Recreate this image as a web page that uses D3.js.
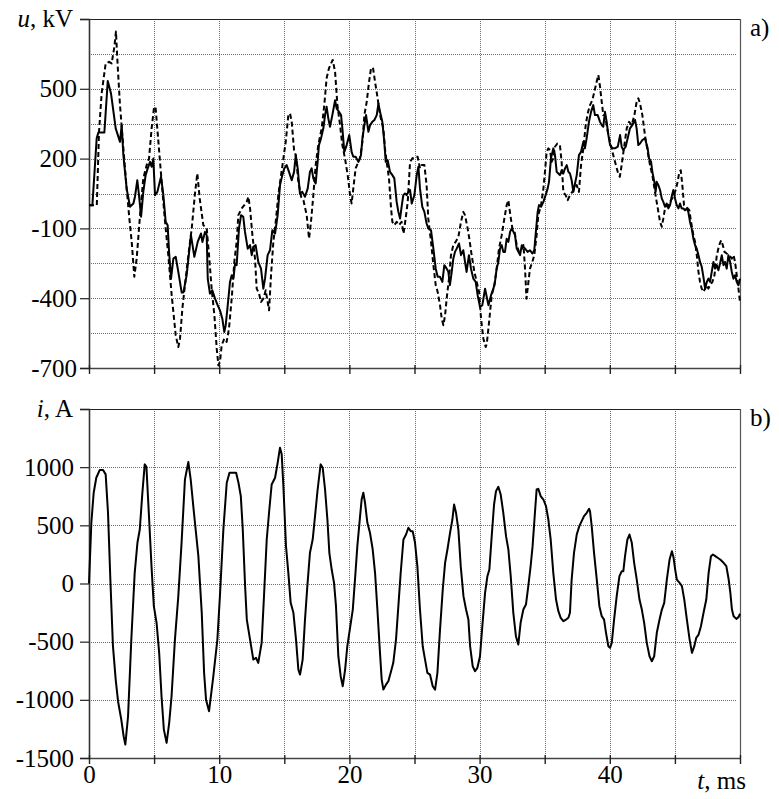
<!DOCTYPE html>
<html>
<head>
<meta charset="utf-8">
<script src="https://cdn.jsdelivr.net/npm/d3@7"></script>
<style>
  html, body { margin: 0; padding: 0; background: #fff; }
  #chart { width: 779px; height: 799px; }
  #chart text { font-family: "Liberation Serif", "DejaVu Serif", serif; font-size: 25px; fill: #000; }
</style>
</head>
<body>
<div id="chart"></div>
<script>
// time axis, ms
var timeTicks = [0, 5, 10, 15, 20, 25, 30, 35, 40, 45, 50];
var timeTickLabels = ["0", "", "10", "", "20", "", "30", "", "40", "", ""];

// voltage panel a), kV
var voltageTicks = [-700, -400, -100, 200, 500, 800];
var voltageGrid = [-550, -400, -250, -100, 50, 200, 350, 500, 650];

// current panel b), A
var currentTicks = [-1500, -1000, -500, 0, 500, 1000, 1500];
var currentGrid = [-1000, -500, 0, 500, 1000];

// [t, u] solid trace
var voltageSolid = [
  [0,0],[0.26,0],[0.59,287],[0.72,312],[1.18,312],[1.44,533],[1.69,480],[2.05,330],[2.38,272],[2.51,344],
  [2.64,215],[2.89,72],[3.15,-7],[3.41,7],[3.53,36],[3.71,107],[3.84,43],[4.0,-50],[4.17,57],[4.35,129],
  [4.51,158],[4.69,186],[4.81,165],[4.94,200],[5.07,43],[5.25,57],[5.53,122],[5.71,43],[5.89,-72],[6.04,-86],
  [6.15,-201],[6.3,-316],[6.48,-230],[6.66,-222],[6.86,-287],[7.12,-376],[7.25,-376],[7.5,-301],[7.83,-129],[8.09,-222],
  [8.35,-158],[8.6,-122],[8.71,-158],[8.91,-115],[9.04,-129],[9.12,-316],[9.29,-380],[9.47,-366],[9.68,-402],[9.88,-430],
  [10.06,-452],[10.24,-488],[10.39,-545],[10.5,-516],[10.63,-445],[10.83,-330],[10.96,-301],[11.09,-316],[11.22,-251],[11.34,-258],
  [11.52,-100],[11.68,-43],[11.85,-50],[11.98,-115],[12.19,-187],[12.37,-172],[12.5,-215],[12.62,-179],[12.8,-172],[13.0,-244],
  [13.21,-273],[13.39,-359],[13.52,-316],[13.72,-215],[13.9,-194],[14.08,-108],[14.29,-122],[14.49,-43],[14.67,86],[14.85,129],
  [15.0,158],[15.18,172],[15.36,143],[15.57,107],[15.75,143],[15.88,215],[16.03,158],[16.2,50],[16.38,57],[16.59,36],
  [16.8,72],[16.97,143],[17.1,158],[17.23,115],[17.41,93],[17.56,186],[17.66,258],[17.82,287],[18.0,330],[18.13,387],
  [18.25,423],[18.38,373],[18.51,337],[18.69,387],[18.9,451],[19.02,416],[19.2,401],[19.36,387],[19.46,330],[19.61,229],
  [19.79,258],[19.99,301],[20.17,229],[20.3,208],[20.48,208],[20.69,186],[20.89,215],[21.0,287],[21.15,344],[21.28,387],
  [21.46,315],[21.59,344],[21.76,358],[21.92,366],[22.1,387],[22.23,437],[22.35,401],[22.53,358],[22.68,272],[22.79,186],
  [22.94,193],[23.12,143],[23.3,129],[23.45,115],[23.63,14],[23.76,-29],[23.89,-58],[24.01,-7],[24.14,43],[24.27,50],
  [24.4,43],[24.53,57],[24.66,65],[24.79,7],[24.99,43],[25.17,129],[25.3,165],[25.42,72],[25.6,-7],[25.76,-29],
  [25.93,-79],[26.06,-100],[26.27,-108],[26.45,-187],[26.63,-273],[26.78,-308],[26.96,-308],[27.14,-330],[27.29,-258],[27.47,-273],
  [27.6,-287],[27.72,-344],[27.86,-287],[27.98,-230],[28.11,-201],[28.24,-187],[28.42,-165],[28.57,-215],[28.75,-194],[28.88,-244],
  [29.0,-287],[29.18,-215],[29.34,-273],[29.52,-316],[29.7,-330],[29.85,-387],[30.03,-438],[30.21,-430],[30.42,-359],[30.55,-395],
  [30.68,-430],[30.88,-387],[31.06,-359],[31.18,-330],[31.31,-273],[31.44,-244],[31.57,-187],[31.7,-172],[31.82,-201],[31.95,-201],
  [32.08,-144],[32.21,-158],[32.34,-115],[32.47,-100],[32.6,-115],[32.72,-129],[32.85,-187],[32.98,-201],[33.11,-215],[33.24,-172],
  [33.37,-179],[33.49,-187],[33.69,-201],[33.87,-194],[34.05,-208],[34.2,-194],[34.3,-129],[34.46,-29],[34.56,0],[34.72,-7],
  [34.9,14],[35.07,43],[35.23,72],[35.33,100],[35.48,201],[35.66,244],[35.79,215],[35.92,143],[36.05,136],[36.17,129],
  [36.3,150],[36.43,136],[36.56,158],[36.69,172],[36.82,143],[36.94,136],[37.07,107],[37.2,57],[37.33,93],[37.46,129],
  [37.63,215],[37.79,229],[37.97,272],[38.09,244],[38.22,287],[38.4,358],[38.56,401],[38.73,430],[38.86,387],[39.07,387],
  [39.25,358],[39.38,344],[39.5,337],[39.63,401],[39.76,358],[39.89,301],[40.02,258],[40.2,244],[40.4,244],[40.61,251],
  [40.79,301],[40.91,251],[41.04,237],[41.22,251],[41.37,287],[41.55,330],[41.73,344],[41.94,366],[42.06,330],[42.19,258],
  [42.32,265],[42.5,280],[42.7,287],[42.91,244],[43.01,201],[43.17,186],[43.27,143],[43.42,100],[43.52,57],[43.6,100],
  [43.73,86],[43.86,65],[43.99,29],[44.11,14],[44.24,-7],[44.37,7],[44.5,-14],[44.63,0],[44.75,36],[44.88,65],
  [45.01,29],[45.14,0],[45.27,-14],[45.39,7],[45.52,-14],[45.65,-14],[45.78,-22],[45.91,-14],[46.03,-29],[46.16,-72],
  [46.29,-100],[46.42,-144],[46.55,-172],[46.68,-187],[46.81,-215],[46.93,-244],[47.06,-265],[47.19,-308],[47.32,-359],[47.45,-330],
  [47.57,-316],[47.7,-330],[47.83,-287],[47.96,-244],[48.09,-273],[48.22,-258],[48.34,-280],[48.47,-251],[48.6,-215],[48.73,-258],
  [48.85,-244],[48.98,-273],[49.11,-215],[49.24,-244],[49.37,-287],[49.5,-316],[49.62,-301],[49.75,-330],[49.88,-344],[50.0,-316]
];

// [t, u] dashed trace
var voltageDashed = [
  [0,0],[0.6,0],[0.77,315],[0.97,480],[1.28,609],[1.54,616],[1.74,609],[1.95,681],[2.07,746],[2.2,602],
  [2.38,430],[2.64,244],[2.89,72],[3.1,-58],[3.28,-158],[3.48,-308],[3.66,-230],[3.92,-43],[4.17,115],[4.43,172],
  [4.61,200],[4.81,330],[5.0,423],[5.12,416],[5.33,272],[5.58,100],[5.84,-72],[6.09,-215],[6.35,-387],[6.66,-559],
  [6.86,-610],[6.99,-574],[7.17,-445],[7.37,-344],[7.63,-215],[7.89,-100],[8.14,50],[8.32,136],[8.5,30],[8.78,-86],
  [9.04,-100],[9.22,-215],[9.42,-359],[9.63,-473],[9.81,-617],[9.94,-689],[10.06,-674],[10.19,-602],[10.39,-574],[10.57,-588],
  [10.75,-531],[10.96,-402],[11.16,-244],[11.34,-158],[11.47,-43],[11.73,-14],[11.93,0],[12.11,14],[12.24,36],[12.37,-14],
  [12.55,-129],[12.75,-230],[12.88,-359],[13.06,-380],[13.21,-416],[13.39,-402],[13.57,-366],[13.72,-416],[13.83,-452],[13.98,-301],
  [14.16,-158],[14.34,-72],[14.54,43],[14.75,129],[14.93,200],[15.11,272],[15.31,387],[15.44,394],[15.57,358],[15.75,236],
  [15.88,215],[16.08,100],[16.29,36],[16.47,21],[16.72,-43],[16.9,-144],[17.05,-72],[17.23,43],[17.41,172],[17.61,258],
  [17.87,330],[18.07,430],[18.25,545],[18.43,588],[18.59,609],[18.72,624],[18.9,573],[19.08,430],[19.28,344],[19.46,258],
  [19.66,201],[19.87,129],[20.05,43],[20.17,7],[20.3,72],[20.48,158],[20.69,186],[20.82,201],[21.0,272],[21.15,387],
  [21.33,444],[21.51,530],[21.66,588],[21.81,591],[21.97,530],[22.17,459],[22.35,387],[22.61,330],[22.73,244],[22.86,186],
  [23.04,115],[23.2,-14],[23.3,-72],[23.45,-86],[23.63,-72],[23.81,-86],[24.01,-72],[24.16,-122],[24.32,-58],[24.48,14],
  [24.66,186],[24.84,201],[25.04,208],[25.24,208],[25.42,158],[25.55,172],[25.76,172],[25.93,86],[26.06,-58],[26.27,-158],
  [26.45,-258],[26.63,-344],[26.78,-373],[26.96,-430],[27.09,-488],[27.22,-516],[27.35,-473],[27.47,-402],[27.65,-316],[27.8,-215],
  [27.98,-172],[28.16,-158],[28.37,-136],[28.57,-72],[28.75,-29],[28.88,-43],[29.08,-100],[29.21,-144],[29.39,-215],[29.6,-287],
  [29.78,-330],[29.96,-373],[30.11,-488],[30.29,-574],[30.47,-610],[30.55,-596],[30.73,-502],[30.93,-387],[31.14,-344],[31.31,-273],
  [31.49,-187],[31.7,-129],[31.9,-58],[32.08,0],[32.21,21],[32.36,-43],[32.52,-100],[32.67,-108],[32.85,-172],[33.03,-201],
  [33.24,-187],[33.37,-172],[33.49,-273],[33.6,-402],[33.75,-330],[33.87,-273],[34.05,-244],[34.2,-215],[34.38,-129],[34.51,-43],
  [34.72,0],[34.9,72],[35.02,143],[35.15,229],[35.28,244],[35.41,237],[35.53,186],[35.66,201],[35.79,251],[35.97,265],
  [36.17,258],[36.3,186],[36.43,57],[36.61,43],[36.76,21],[36.94,43],[37.12,57],[37.28,72],[37.46,86],[37.63,57],
  [37.79,172],[37.97,244],[38.15,344],[38.3,394],[38.48,430],[38.66,451],[38.81,487],[38.99,530],[39.12,559],[39.25,509],
  [39.38,444],[39.5,387],[39.63,387],[39.76,344],[39.89,301],[40.02,272],[40.2,229],[40.4,186],[40.61,143],[40.77,122],
  [40.91,172],[41.12,258],[41.3,330],[41.48,358],[41.68,344],[41.89,387],[42.06,444],[42.19,459],[42.32,437],[42.5,387],
  [42.7,301],[42.91,229],[43.09,172],[43.27,129],[43.47,57],[43.6,14],[43.73,-29],[43.86,-72],[43.99,-93],[44.11,-58],
  [44.24,-14],[44.37,0],[44.5,0],[44.7,21],[44.88,36],[45.06,65],[45.21,100],[45.34,143],[45.45,150],[45.57,86],
  [45.7,0],[45.83,-7],[45.98,-14],[46.11,-22],[46.24,-72],[46.42,-129],[46.55,-158],[46.68,-215],[46.81,-287],[46.93,-330],
  [47.06,-359],[47.19,-373],[47.32,-359],[47.45,-344],[47.57,-359],[47.7,-344],[47.88,-330],[48.04,-301],[48.22,-215],[48.4,-172],
  [48.55,-151],[48.68,-172],[48.81,-201],[48.98,-208],[49.16,-215],[49.37,-230],[49.5,-215],[49.62,-244],[49.75,-301],[49.88,-359],
  [50.0,-416]
];

// [t, i] current trace
var currentTrace = [
  [0,0],[0.18,522],[0.36,780],[0.56,909],[0.82,975],[1.08,975],[1.28,938],[1.46,608],[1.64,34],[1.84,-539],
  [2.05,-826],[2.23,-1012],[2.48,-1170],[2.66,-1313],[2.79,-1385],[3.0,-1141],[3.25,-482],[3.51,92],[3.72,350],[3.9,464],
  [4.1,780],[4.28,1024],[4.41,1003],[4.62,550],[4.8,149],[4.98,-195],[5.19,-338],[5.39,-596],[5.57,-969],[5.75,-1256],
  [5.96,-1370],[6.16,-1198],[6.34,-969],[6.6,-482],[6.86,-109],[7.11,350],[7.37,895],[7.63,1044],[7.81,895],[8.06,608],
  [8.4,235],[8.66,-252],[8.84,-768],[8.99,-1000],[9.22,-1098],[9.55,-797],[9.86,-482],[10.07,-80],[10.32,464],[10.58,866],
  [10.79,952],[11.1,952],[11.3,952],[11.48,866],[11.66,751],[11.81,464],[11.99,-23],[12.12,-310],[12.37,-482],[12.62,-654],
  [12.83,-639],[13.0,-682],[13.26,-510],[13.44,-109],[13.65,378],[13.85,636],[14.03,851],[14.29,909],[14.47,1024],[14.67,1167],
  [14.8,1110],[14.93,837],[15.13,321],[15.31,92],[15.49,-166],[15.7,-252],[15.9,-482],[16.08,-740],[16.21,-783],[16.41,-654],
  [16.59,-310],[16.77,-23],[16.97,264],[17.18,378],[17.36,579],[17.56,808],[17.79,1024],[17.95,995],[18.13,808],[18.31,550],
  [18.46,264],[18.64,120],[18.82,6],[18.97,-195],[19.15,-625],[19.33,-797],[19.49,-883],[19.67,-740],[19.84,-539],[20.05,-381],
  [20.26,-224],[20.43,34],[20.61,321],[20.82,579],[20.94,722],[21.07,780],[21.2,694],[21.38,522],[21.58,436],[21.79,292],
  [21.97,92],[22.15,-224],[22.35,-596],[22.48,-826],[22.61,-912],[22.81,-869],[22.99,-840],[23.17,-768],[23.37,-682],[23.58,-482],
  [23.76,-195],[23.94,92],[24.15,378],[24.35,421],[24.53,479],[24.71,450],[24.86,450],[25.04,350],[25.22,149],[25.42,-224],
  [25.63,-539],[25.81,-654],[25.99,-768],[26.19,-783],[26.4,-883],[26.58,-912],[26.76,-768],[26.96,-396],[27.17,-52],[27.35,178],
  [27.53,292],[27.73,436],[27.91,550],[28.04,679],[28.19,608],[28.37,464],[28.55,149],[28.76,-109],[28.96,-224],[29.14,-310],
  [29.27,-539],[29.47,-711],[29.65,-754],[29.83,-725],[30.03,-625],[30.21,-367],[30.42,-80],[30.6,63],[30.75,120],[30.93,407],
  [31.11,679],[31.26,794],[31.44,831],[31.62,765],[31.82,608],[32.03,407],[32.21,292],[32.39,63],[32.59,-252],[32.79,-453],
  [32.97,-525],[33.15,-338],[33.36,-224],[33.56,-181],[33.74,-23],[33.92,149],[34.07,321],[34.25,608],[34.38,808],[34.51,814],
  [34.69,751],[34.9,722],[35.1,665],[35.28,550],[35.46,378],[35.66,92],[35.87,-138],[36.05,-238],[36.23,-295],[36.43,-324],
  [36.64,-310],[36.82,-295],[36.94,-252],[37.07,34],[37.25,264],[37.46,421],[37.66,493],[37.84,536],[38.02,579],[38.23,608],
  [38.41,642],[38.48,622],[38.61,493],[38.79,264],[39.0,34],[39.2,-195],[39.38,-281],[39.56,-310],[39.71,-424],[39.89,-539],
  [40.02,-553],[40.15,-510],[40.33,-310],[40.53,-109],[40.74,63],[40.92,106],[41.04,106],[41.17,235],[41.35,378],[41.51,421],
  [41.69,350],[41.87,178],[42.07,34],[42.28,-138],[42.46,-224],[42.64,-338],[42.84,-510],[43.05,-625],[43.23,-668],[43.41,-625],
  [43.61,-424],[43.82,-310],[44.0,-224],[44.18,-166],[44.38,34],[44.59,206],[44.77,278],[44.9,221],[45.02,120],[45.15,34],
  [45.36,6],[45.54,-23],[45.72,-138],[45.92,-310],[46.13,-482],[46.31,-596],[46.49,-539],[46.64,-467],[46.82,-439],[47.0,-367],
  [47.2,-252],[47.41,-138],[47.59,92],[47.77,235],[47.92,249],[48.1,235],[48.28,221],[48.48,206],[48.74,178],[48.95,149],
  [49.13,34],[49.26,-80],[49.38,-224],[49.51,-281],[49.72,-304],[49.9,-287],[50.0,-260]
];

function Panel(opts) {
  this.svg = opts.svg;
  this.top = opts.top;
  this.bottom = opts.bottom;
  this.left = 89;
  this.right = 740;
  this.x = d3.scaleLinear().domain([0, 50]).range([this.left, this.right]);
  this.y = d3.scaleLinear().domain(opts.domain).range([this.bottom, this.top]);
  this.g = this.svg.append("g");
  this.drawGrid(opts.grid);
  this.drawFrame();
  this.drawYAxis(opts.ticks, opts.labelPad, opts.unitItalic, opts.unitRest);
  this.drawXAxis(opts.showTimeLabels);
  this.drawTag(opts.tag, opts.tagY);
}

Panel.prototype.drawGrid = function (gridValues) {
  var that = this;
  var grid = this.g.append("g")
    .attr("stroke", "#6e6e6e")
    .attr("stroke-width", 1)
    .attr("stroke-dasharray", "1,1")
    .attr("shape-rendering", "crispEdges");
  grid.selectAll("line.h")
    .data(gridValues)
    .enter()
    .append("line")
    .attr("class", "h")
    .attr("x1", this.left)
    .attr("x2", this.right - 3)
    .attr("y1", function (d) { return Math.round(that.y(d)) + 0.5; })
    .attr("y2", function (d) { return Math.round(that.y(d)) + 0.5; });
  grid.selectAll("line.v")
    .data(timeTicks.slice(1, -1))
    .enter()
    .append("line")
    .attr("class", "v")
    .attr("y1", this.top)
    .attr("y2", this.bottom)
    .attr("x1", function (d) { return Math.round(that.x(d)) + 0.5; })
    .attr("x2", function (d) { return Math.round(that.x(d)) + 0.5; });
};

Panel.prototype.drawFrame = function () {
  this.g.append("line")
    .attr("x1", this.left).attr("x2", this.right)
    .attr("y1", this.top + 0.5).attr("y2", this.top + 0.5)
    .attr("stroke", "#222").attr("stroke-width", 1.2);
  this.g.append("line")
    .attr("x1", this.right + 0.5).attr("x2", this.right + 0.5)
    .attr("y1", this.top).attr("y2", this.bottom)
    .attr("stroke", "#555").attr("stroke-width", 1.2);
};

Panel.prototype.drawYAxis = function (ticks, labelPad, unitItalic, unitRest) {
  var axis = d3.axisLeft(this.y)
    .tickValues(ticks)
    .tickSize(9)
    .tickPadding(labelPad)
    .tickFormat(function (d, i) {
      return i === ticks.length - 1 ? "" : String(d);
    });
  var ag = this.g.append("g")
    .attr("transform", "translate(" + this.left + ",0)")
    .call(axis);
  ag.attr("font-family", null).attr("font-size", null);
  ag.select(".domain").attr("stroke", "#333").attr("stroke-width", 1.6);
  ag.selectAll(".tick line").attr("stroke", "#222").attr("stroke-width", 1.2);

  var unit = this.g.append("text")
    .attr("x", 73)
    .attr("y", this.top + 8)
    .attr("text-anchor", "end");
  unit.append("tspan").attr("font-style", "italic").text(unitItalic);
  unit.append("tspan").text(unitRest);
};

Panel.prototype.drawXAxis = function (showTimeLabels) {
  var axis = d3.axisBottom(this.x)
    .tickValues(timeTicks)
    .tickSize(6)
    .tickSizeOuter(0)
    .tickPadding(1)
    .tickFormat(function (d, i) {
      return showTimeLabels ? timeTickLabels[i] : "";
    });
  var ag = this.g.append("g")
    .attr("transform", "translate(0," + this.bottom + ")")
    .call(axis);
  ag.attr("font-family", null).attr("font-size", null);
  ag.select(".domain").attr("stroke", "#444").attr("stroke-width", 1.6);
  ag.selectAll(".tick line").attr("y1", -3).attr("stroke", "#222").attr("stroke-width", 1.4);

  if (showTimeLabels) {
    var lab = this.g.append("text")
      .attr("x", 746)
      .attr("y", this.bottom + 31)
      .attr("text-anchor", "end");
    lab.append("tspan").attr("font-style", "italic").text("t");
    lab.append("tspan").text(", ms");
  }
};

Panel.prototype.drawTag = function (tag, tagY) {
  this.g.append("text")
    .attr("x", 750)
    .attr("y", tagY)
    .text(tag);
};

Panel.prototype.addSeries = function (data, dash) {
  var that = this;
  var line = d3.line()
    .x(function (d) { return that.x(d[0]); })
    .y(function (d) { return that.y(d[1]); });
  this.g.append("path")
    .datum(data)
    .attr("fill", "none")
    .attr("stroke", "#000")
    .attr("stroke-width", 2)
    .attr("stroke-linejoin", "round")
    .attr("stroke-dasharray", dash || null)
    .attr("d", line);
};

var svg = d3.select("#chart")
  .append("svg")
  .attr("width", 779)
  .attr("height", 799);

var voltagePanel = new Panel({
  svg: svg, top: 19, bottom: 368,
  domain: [-700, 800], ticks: voltageTicks, grid: voltageGrid, labelPad: 3,
  unitItalic: "u", unitRest: ", kV",
  showTimeLabels: false, tag: "a)", tagY: 36
});
voltagePanel.addSeries(voltageDashed, "5,3");
voltagePanel.addSeries(voltageSolid);

var currentPanel = new Panel({
  svg: svg, top: 409, bottom: 758,
  domain: [-1500, 1500], ticks: currentTicks, grid: currentGrid, labelPad: 6,
  unitItalic: "i", unitRest: ", A",
  showTimeLabels: true, tag: "b)", tagY: 426
});
currentPanel.addSeries(currentTrace);
</script>
</body>
</html>
